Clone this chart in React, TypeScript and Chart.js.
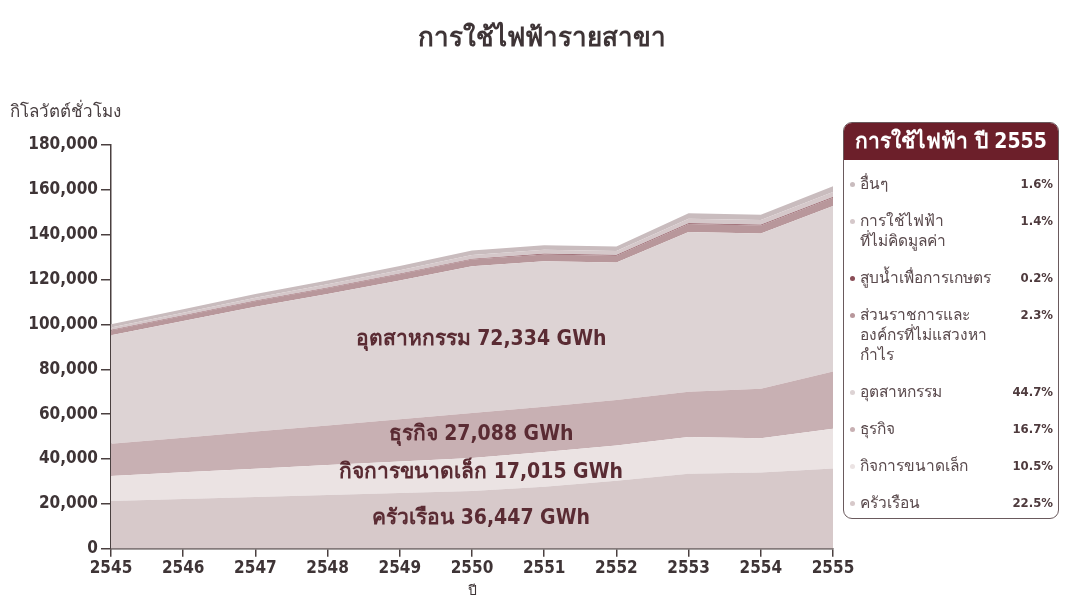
import React, { useEffect, useRef } from 'react';
import { Chart, registerables } from 'chart.js';

Chart.register(...registerables);

const years = ['2545', '2546', '2547', '2548', '2549', '2550', '2551', '2552', '2553', '2554', '2555'];
const household = [21300, 22200, 23100, 24000, 24900, 25800, 27700, 30300, 33500, 34000, 35800];
const smallBusiness = [11200, 11900, 12600, 13300, 14000, 14700, 15500, 15700, 16300, 15300, 17700];
const business = [14300, 15400, 16600, 17700, 18900, 20000, 20100, 20300, 20200, 22000, 25500];
const industry = [48400, 52000, 55600, 58600, 61800, 65500, 64900, 61300, 71200, 69300, 73800];
const government = [2100, 2250, 2400, 2550, 2750, 2950, 3000, 3050, 3550, 3500, 3700];
const pumping = [200, 220, 230, 240, 260, 280, 290, 290, 330, 330, 350];
const freeUse = [1200, 1300, 1400, 1500, 1600, 1750, 1800, 1800, 2100, 2100, 2200];
const others = [1400, 1530, 1670, 1710, 1890, 2020, 2010, 2060, 2420, 2370, 2550];

const seriesNames = ['ครัวเรือน', 'กิจการขนาดเล็ก', 'ธุรกิจ', 'อุตสาหกรรม', 'ส่วนราชการและองค์กรที่ไม่แสวงหากำไร', 'สูบน้ำเพื่อการเกษตร', 'การใช้ไฟฟ้าที่ไม่คิดมูลค่า', 'อื่นๆ'];
const seriesColors = ['#d7c9ca', '#ebe3e3', '#c8b0b3', '#ddd3d4', '#b8979b', '#8a4d57', '#d5c8ca', '#c9bcbe'];

const areaLabels = ['อุตสาหกรรม 72,334 GWh', 'ธุรกิจ 27,088 GWh', 'กิจการขนาดเล็ก 17,015 GWh', 'ครัวเรือน 36,447 GWh'];
const areaLabelValues = [93500, 51000, 34000, 13300];

const legendTitle = 'การใช้ไฟฟ้า ปี 2555';
const legendLines = [
  ['อื่นๆ'],
  ['การใช้ไฟฟ้า', 'ที่ไม่คิดมูลค่า'],
  ['สูบน้ำเพื่อการเกษตร'],
  ['ส่วนราชการและ', 'องค์กรที่ไม่แสวงหา', 'กำไร'],
  ['อุตสาหกรรม'],
  ['ธุรกิจ'],
  ['กิจการขนาดเล็ก'],
  ['ครัวเรือน'],
];
const legendPercents = ['1.6%', '1.4%', '0.2%', '2.3%', '44.7%', '16.7%', '10.5%', '22.5%'];
const legendColorIdx = [7, 6, 5, 4, 3, 2, 1, 0];

const chartTitle = 'การใช้ไฟฟ้ารายสาขา';
const yUnit = 'กิโลวัตต์ชั่วโมง';
const xTitle = 'ปี';

const FONT = '"DejaVu Sans Condensed", "DejaVu Sans", "Noto Sans", sans-serif';
const TEXT = '#3e3436';

export default function App() {
  const ref = useRef<HTMLCanvasElement | null>(null);
  useEffect(() => {
    const all = [household, smallBusiness, business, industry, government, pumping, freeUse, others];
    const labelsPlugin = {
      id: 'areaLabels',
      afterDatasetsDraw(chart: any) {
        const { ctx, scales } = chart;
        const x = scales.x.getPixelForValue(5) + 9;
        ctx.save();
        ctx.font = `bold 21px ${FONT}`;
        ctx.fillStyle = '#5a2b33';
        ctx.textAlign = 'center';
        ctx.textBaseline = 'middle';
        areaLabels.forEach((t, i) => {
          ctx.fillText(t, x, scales.y.getPixelForValue(areaLabelValues[i]));
        });
        ctx.restore();
      },
      afterDraw(chart: any) {
        const { ctx } = chart;
        ctx.save();
        ctx.fillStyle = TEXT;
        ctx.textBaseline = 'middle';
        ctx.font = `bold 26px ${FONT}`;
        ctx.textAlign = 'center';
        ctx.fillText(chartTitle, 534, 31);
        ctx.font = `17px ${FONT}`;
        ctx.fillStyle = '#4a4042';
        ctx.textAlign = 'left';
        ctx.fillText(yUnit, 2, 105);
        ctx.restore();
      },
    };
    const chart = new Chart(ref.current as HTMLCanvasElement, {
      type: 'line',
      data: {
        labels: years,
        datasets: all.map((d, i) => ({
          label: seriesNames[i],
          data: d,
          backgroundColor: seriesColors[i],
          borderColor: seriesColors[i],
          borderWidth: 0,
          pointRadius: 0,
          tension: 0,
          fill: i === 0 ? 'origin' : '-1',
        })),
      },
      options: {
        responsive: false,
        animation: false,
        layout: { padding: { left: 0, right: 226, top: 137, bottom: 0 } },
        plugins: {
          legend: { display: false },
          tooltip: { enabled: false },
          title: { display: false },
        },
        scales: {
          x: {
            offset: false,
            grid: { display: true, drawOnChartArea: false, drawTicks: true, tickLength: 8, color: '#4a4040', lineWidth: 1.5 },
            border: { display: true, color: '#4a4040', width: 1.5 },
            ticks: { color: TEXT, font: { family: FONT, size: 17, weight: 'bold' }, padding: 2, maxRotation: 0 },
            title: { display: true, text: xTitle, color: TEXT, font: { family: FONT, size: 14 }, padding: { top: 2, bottom: 0 } },
          },
          y: {
            stacked: true,
            min: 0,
            max: 180000,
            grid: { display: true, drawOnChartArea: false, drawTicks: true, tickLength: 10, color: '#4a4040', lineWidth: 1.5 },
            border: { display: true, color: '#4a4040', width: 1.5 },
            ticks: {
              stepSize: 20000,
              color: TEXT,
              font: { family: FONT, size: 17, weight: 'bold' },
              padding: 3,
              callback: (v: any) => Number(v).toLocaleString('en-US'),
            },
            afterFit: (s: any) => { s.width = 103; },
          },
        },
      },
      plugins: [labelsPlugin],
    } as any);
    return () => chart.destroy();
  }, []);

  return (
    <div style={{ position: 'relative', width: 1051, height: 592 }}>
      <canvas ref={ref} width={1051} height={592} style={{ width: 1051, height: 592, display: 'block' }} />
      <div
        style={{
          position: 'absolute', left: 835, top: 114, width: 216, height: 397,
          border: '1.5px solid #6a5a5d', borderRadius: 9, boxSizing: 'border-box',
          fontFamily: FONT, overflow: 'hidden', background: '#fff',
        }}
      >
        <div style={{ background: '#6c1f2a', color: '#fff', fontWeight: 'bold', fontSize: 21, height: 37, lineHeight: '37px', textAlign: 'center' }}>
          {legendTitle}
        </div>
        <div style={{ padding: '14px 5px 0 6px' }}>
          {legendLines.map((lines, i) => (
            <div key={i} style={{ display: 'flex', alignItems: 'flex-start', fontSize: 15.5, color: '#5a4a4d', lineHeight: '20px', marginBottom: 17 }}>
              <span style={{ width: 5, height: 5, borderRadius: 3, background: seriesColors[legendColorIdx[i]], marginTop: 8, marginRight: 5, flex: 'none' }} />
              <span style={{ flex: 1, whiteSpace: 'nowrap' }}>
                {lines.map((l, j) => (<div key={j}>{l}</div>))}
              </span>
              <span style={{ color: '#4e3a3d', fontWeight: 'bold', fontSize: 13 }}>{legendPercents[i]}</span>
            </div>
          ))}
        </div>
      </div>
    </div>
  );
}
